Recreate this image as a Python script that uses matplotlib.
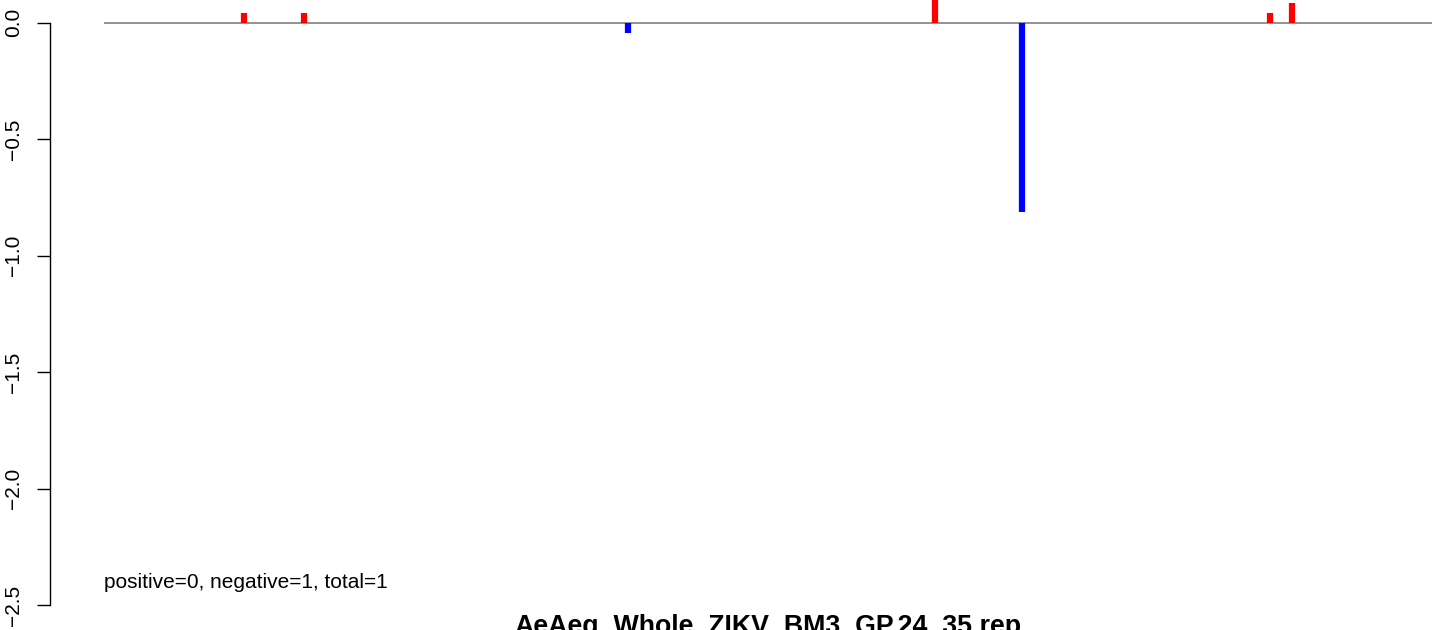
import matplotlib
matplotlib.use("Agg")
import matplotlib.pyplot as plt

plt.rcParams["font.family"] = ["Liberation Sans", "DejaVu Sans"]

# bar positions along the track and their scores
positions = [140, 200, 524, 831, 918, 1166, 1188]
scores    = [0.042, 0.042, -0.044, 0.12, -0.813, 0.042, 0.085]
colors    = ["red" if s > 0 else "blue" for s in scores]
yticks    = [0.0, -0.5, -1.0, -1.5, -2.0, -2.5]
title     = "AeAeg_Whole_ZIKV_BM3_GP.24_35.rep"
summary   = "positive=0, negative=1, total=1"

W, H = 1447, 630
fig = plt.figure(figsize=(W / 100, H / 100), dpi=100)
ax = fig.add_axes([104 / W, 0, (1432 - 104) / W, 1])

ax.axhline(0, color="#808080", linewidth=1.2, zorder=1)
ax.vlines(positions, 0, scores, colors=colors, linewidth=4.5, zorder=2,
          capstyle="butt")

ax.set_xlim(0, 1328)
ax.set_ylim(-2.6075, 0.0975)

for s in ["top", "right", "bottom"]:
    ax.spines[s].set_visible(False)
ax.spines["left"].set_position(("outward", 38.9))
ax.spines["left"].set_bounds(-2.5, 0)
ax.spines["left"].set_linewidth(1.0)
ax.set_xticks([])
ax.set_yticks(yticks)
ax.set_yticklabels([f"{t:.1f}".replace("-", "\u2212") for t in yticks])
ax.tick_params(axis="y", length=9.4, width=1.0, pad=10.0, labelsize=15)
for lab in ax.get_yticklabels():
    lab.set_rotation(90)
    lab.set_va("center")
    lab.set_ha("right")

fig.text(104 / W, 1 - 582 / H, summary, fontsize=15, ha="left", va="center")
fig.text(768 / W, 1 - 614 / H, title, fontsize=19.3, fontweight="bold",
         ha="center", va="top")

fig.savefig("out.png", dpi=100)
